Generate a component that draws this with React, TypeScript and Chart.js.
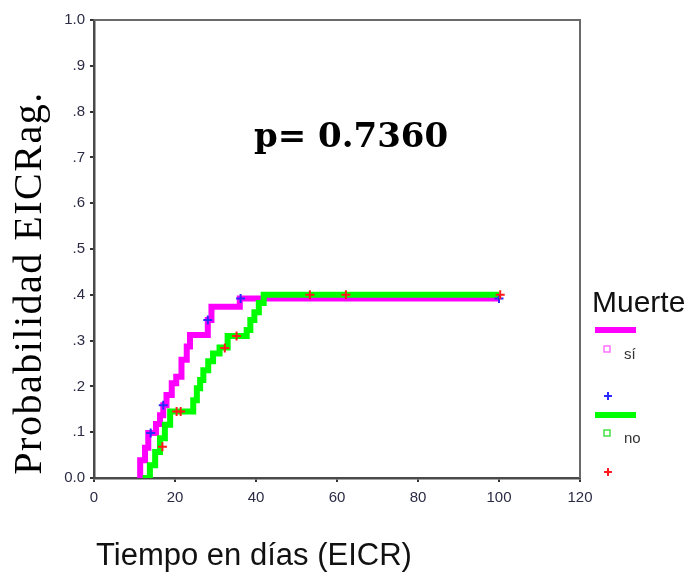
import React, { useEffect, useRef } from "react";
import { Chart, registerables } from "chart.js";

Chart.register(...registerables);

// Kaplan-Meier style cumulative curves (1 - S) per group "Muerte"
const siTimes = [11.4, 11.4, 12.6, 13.4, 15.3, 16.3, 17.1, 17.9, 19.2, 20.3, 21.6, 22.9, 23.7, 28.1, 29.0, 36.0, 100];
const siProb = [0, 0.039, 0.066, 0.098, 0.118, 0.137, 0.159, 0.181, 0.207, 0.221, 0.258, 0.287, 0.312, 0.345, 0.374, 0.392, 0.392];

const noTimes = [12, 13.8, 15.1, 16.3, 17.5, 18.8, 24.5, 25.4, 26.2, 27.0, 28.2, 29.4, 31.0, 33.0, 37.7, 38.6, 39.6, 40.7, 41.9, 100];
const noProb = [0, 0.028, 0.057, 0.087, 0.116, 0.145, 0.17, 0.196, 0.214, 0.235, 0.255, 0.272, 0.285, 0.31, 0.323, 0.345, 0.362, 0.382, 0.4, 0.4];

// censored observations
const siCensTimes = [14.0, 17.1, 28.1, 36.2, 100];
const siCensProb = [0.098, 0.159, 0.345, 0.392, 0.392];
const noCensTimes = [16.9, 20.4, 21.4, 32.3, 35.2, 53.3, 62.2, 100.3];
const noCensProb = [0.068, 0.145, 0.145, 0.284, 0.31, 0.4, 0.4, 0.4];

const xTickValues = [0, 20, 40, 60, 80, 100, 120];
const yTickLabels = ["0.0", ".1", ".2", ".3", ".4", ".5", ".6", ".7", ".8", ".9", "1.0"];

const groupLabels = ["sí", "no"];
const legendTitle = "Muerte";
const pValueText = "p= 0.7360";
const xTitle = "Tiempo en días (EICR)";
const yTitle = "Probabilidad EICRag.";

const MAGENTA = "#ff00ff";
const GREEN = "#00ff00";
const BLUE = "#2a2aff";
const RED = "#ff1a1a";

const pts = (xs: number[], ys: number[]) => xs.map((x, i) => ({ x, y: ys[i] }));

function cross(ctx: CanvasRenderingContext2D, x: number, y: number, r: number, color: string) {
  ctx.save();
  ctx.strokeStyle = color;
  ctx.lineWidth = 2;
  ctx.beginPath();
  ctx.moveTo(x - r, y);
  ctx.lineTo(x + r, y);
  ctx.moveTo(x, y - r);
  ctx.lineTo(x, y + r);
  ctx.stroke();
  ctx.restore();
}

const decorPlugin = {
  id: "decor",
  afterDraw(chart: any) {
    const ctx: CanvasRenderingContext2D = chart.ctx;
    const a = chart.chartArea;
    ctx.save();
    // top and right frame
    ctx.strokeStyle = "#6a6a6a";
    ctx.lineWidth = 2;
    ctx.beginPath();
    ctx.moveTo(a.left, a.top);
    ctx.lineTo(a.right, a.top);
    ctx.lineTo(a.right, a.bottom);
    ctx.stroke();

    // p value
    ctx.fillStyle = "#000";
    ctx.font = "bold 34px 'DejaVu Serif', serif";
    ctx.textAlign = "center";
    ctx.textBaseline = "alphabetic";
    ctx.fillText(pValueText, 351, 147);

    // x title
    ctx.font = "31px 'Liberation Sans', Arial, sans-serif";
    ctx.fillStyle = "#111";
    ctx.textAlign = "left";
    ctx.fillText(xTitle, 96, 565);

    // y title
    ctx.save();
    ctx.translate(41, 283);
    ctx.rotate(-Math.PI / 2);
    ctx.font = "40px 'Liberation Serif', 'Times New Roman', serif";
    (ctx as any).letterSpacing = "1.5px";
    ctx.textAlign = "center";
    ctx.fillStyle = "#000";
    ctx.fillText(yTitle, 0, 0);
    ctx.restore();

    // legend
    ctx.textAlign = "left";
    ctx.fillStyle = "#111";
    ctx.font = "30px 'Liberation Sans', Arial, sans-serif";
    ctx.fillText(legendTitle, 592, 312);

    ctx.fillStyle = MAGENTA;
    ctx.fillRect(595, 327, 41, 6);
    ctx.strokeStyle = "#ff70ff";
    ctx.lineWidth = 1.5;
    ctx.strokeRect(604, 346, 6, 6);
    ctx.fillStyle = "#333";
    ctx.font = "15px 'Liberation Sans', Arial, sans-serif";
    ctx.fillText(groupLabels[0], 624, 359);
    cross(ctx, 608, 396, 4, BLUE);

    ctx.fillStyle = GREEN;
    ctx.fillRect(595, 412, 41, 6);
    ctx.strokeStyle = "#44e044";
    ctx.lineWidth = 1.5;
    ctx.strokeRect(604, 430, 6, 6);
    ctx.fillStyle = "#333";
    ctx.fillText(groupLabels[1], 624, 443);
    cross(ctx, 608, 472, 4, RED);
    ctx.restore();
  },
};

export default function App() {
  const ref = useRef<HTMLCanvasElement | null>(null);
  useEffect(() => {
    if (!ref.current) return;
    const tickFont = { family: "'Liberation Sans', Arial, sans-serif", size: 15 };
    const chart = new Chart(ref.current, {
      type: "line",
      data: {
        datasets: [
          {
            label: "no censurado",
            data: pts(noCensTimes, noCensProb),
            showLine: false,
            pointStyle: "cross",
            pointRadius: 4.5,
            pointBorderWidth: 2,
            borderColor: RED,
            backgroundColor: RED,
            order: 0,
          } as any,
          {
            label: "sí censurado",
            data: pts(siCensTimes, siCensProb),
            showLine: false,
            pointStyle: "cross",
            pointRadius: 4.5,
            pointBorderWidth: 2,
            borderColor: BLUE,
            backgroundColor: BLUE,
            order: 1,
          },
          {
            label: groupLabels[1],
            data: pts(noTimes, noProb),
            stepped: true,
            borderColor: GREEN,
            borderWidth: 6,
            pointRadius: 0,
            fill: false,
            borderCapStyle: "butt",
            borderJoinStyle: "miter",
            order: 2,
          },
          {
            label: groupLabels[0],
            data: pts(siTimes, siProb),
            stepped: true,
            borderColor: MAGENTA,
            borderWidth: 6,
            pointRadius: 0,
            fill: false,
            borderCapStyle: "butt",
            borderJoinStyle: "miter",
            order: 3,
          },
        ],
      },
      options: {
        responsive: false,
        animation: false,
        layout: { padding: { top: 20, right: 113, left: 0, bottom: 0 } },
        plugins: { legend: { display: false }, tooltip: { enabled: false } },
        scales: {
          x: {
            type: "linear",
            min: 0,
            max: 120,
            afterBuildTicks: (s: any) => {
              s.ticks = xTickValues.map((v) => ({ value: v }));
            },
            afterFit: (s: any) => {
              s.height = 98;
            },
            ticks: {
              font: tickFont,
              color: "#2b2b45",
              padding: 7,
              maxRotation: 0,
              callback: (v: any) => String(v),
            },
            grid: { drawOnChartArea: false, drawTicks: true, tickLength: 4, color: "#333", lineWidth: 2 },
            border: { display: true, color: "#4a4a4a", width: 2.5 },
          },
          y: {
            type: "linear",
            min: 0,
            max: 1,
            afterBuildTicks: (s: any) => {
              s.ticks = yTickLabels.map((_, i) => ({ value: i / 10 }));
            },
            afterFit: (s: any) => {
              s.width = 94;
            },
            ticks: {
              font: tickFont,
              color: "#2b2b45",
              padding: 5,
              callback: (v: any) => yTickLabels[Math.round(Number(v) * 10)],
            },
            grid: { drawOnChartArea: false, drawTicks: true, tickLength: 4, color: "#333", lineWidth: 2 },
            border: { display: true, color: "#4a4a4a", width: 2.5 },
          },
        },
      },
      plugins: [decorPlugin],
    });
    return () => chart.destroy();
  }, []);
  return (
    <div style={{ position: "fixed", left: 0, top: 0, width: 693, height: 576, background: "#fff" }}>
      <canvas ref={ref} width={693} height={576} style={{ display: "block" }} />
    </div>
  );
}
